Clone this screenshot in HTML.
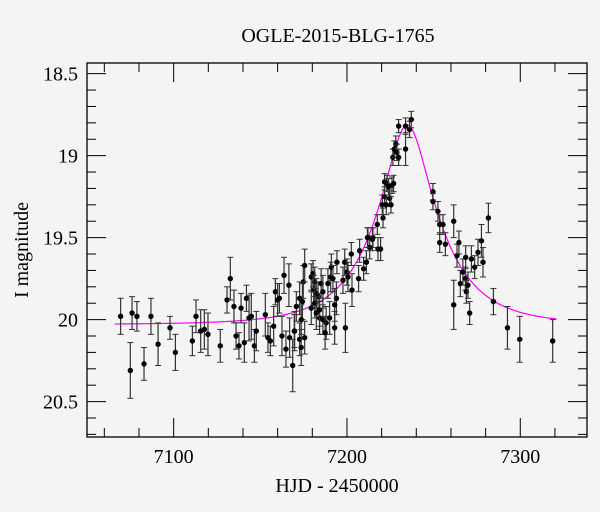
<!DOCTYPE html>
<html><head><meta charset="utf-8"><style>
body{margin:0;background:#f4f4f4;}
svg{display:block;font-family:"Liberation Serif",serif;}
</style></head><body>
<svg id="chart" width="600" height="512" xmlns="http://www.w3.org/2000/svg">
<rect width="600" height="512" fill="#f4f4f4"/>
<text x="338" y="42" text-anchor="middle" font-size="20">OGLE-2015-BLG-1765</text>
<text x="337" y="492" text-anchor="middle" font-size="20">HJD - 2450000</text>
<text transform="translate(28,250) rotate(-90)" text-anchor="middle" font-size="20">I magnitude</text>
<g id="axes"></g>
<g id="model"></g>
<g id="points"></g>
</svg>
<script>
const tData=[7069.4,7075,7076,7078.8,7082.9,7086.9,7091,7097.9,7101,7110.8,7112.9,7115.6,7117.7,7119.8,7126.9,7130.8,7132.7,7134.8,7136,7137.7,7138.9,7140.8,7142,7143.5,7144.8,7146.6,7147.7,7152.9,7154.4,7155.8,7157.7,7158.7,7160,7161,7162.5,7163.7,7164.8,7166.5,7166.9,7168.7,7169.6,7170.8,7174.8,7175.6,7172.7,7174.3,7169.8,7173.6,7172.7,7173.6,7175.6,7179.4,7180.4,7181.4,7180.8,7182.3,7183.3,7179.4,7181.4,7182.3,7184.2,7185.1,7184.2,7186.1,7186.1,7188,7189,7190,7190.6,7191,7191.9,7187.4,7192.9,7194.2,7193.9,7192.9,7197.7,7198.7,7199.1,7200,7200.6,7202.5,7202.9,7206.7,7207.3,7209.6,7211.2,7212.1,7215,7213.1,7217.9,7219.4,7217.5,7214.7,7211.8,7220.8,7220.4,7221.7,7222.7,7223.1,7221.7,7224,7224.6,7225.4,7226,7226.9,7226.5,7227.3,7228.2,7228.8,7229.8,7229.8,7233.8,7233.8,7236.1,7237.1,7249.6,7249.6,7252.5,7253.5,7255.4,7253.5,7256.8,7261.6,7261.6,7263.5,7264.6,7265.4,7266.9,7268.3,7268.5,7268.9,7269.8,7270.8,7271.8,7273.7,7275.6,7277.6,7278.5,7281.6,7284.5,7292.6,7299.7,7318.7];
const magData=[19.98,20.31,19.96,19.98,20.27,19.98,20.15,20.05,20.2,20.13,19.98,20.07,20.06,20.09,20.16,19.88,19.75,19.92,20.1,20.16,19.93,20.14,19.87,19.99,19.98,20.16,20.07,19.97,20.11,20.13,20.04,19.83,19.88,19.87,20.1,19.73,20.18,19.79,20.11,20.28,20.07,19.92,19.77,19.67,19.87,19.89,20.07,20.0,20.12,20.17,20.11,19.74,19.72,19.77,19.82,19.84,19.86,19.93,19.9,19.96,19.99,19.78,19.94,20.0,19.83,20.02,19.78,19.99,19.74,19.68,19.75,20.08,20.05,19.65,19.87,19.91,19.76,19.65,20.05,19.71,19.74,19.6,19.82,19.75,19.58,19.69,19.65,19.5,19.5,19.56,19.57,19.57,19.42,19.51,19.5,19.38,19.3,19.25,19.3,19.17,19.16,19.19,19.26,19.3,19.18,19.17,19.01,18.96,18.93,18.98,19.01,18.82,18.96,18.82,18.84,18.78,19.22,19.28,19.34,19.42,19.42,19.53,19.54,19.4,19.91,19.61,19.53,19.78,19.71,19.75,19.62,19.83,19.79,19.96,19.63,19.68,19.59,19.52,19.65,19.38,19.89,20.05,20.12,20.13];
const errData=[0.11,0.17,0.1,0.09,0.1,0.11,0.13,0.07,0.11,0.09,0.1,0.13,0.12,0.13,0.1,0.08,0.13,0.1,0.08,0.08,0.09,0.12,0.08,0.14,0.14,0.1,0.12,0.13,0.09,0.09,0.12,0.08,0.1,0.09,0.12,0.11,0.11,0.13,0.12,0.16,0.1,0.09,0.1,0.1,0.1,0.11,0.12,0.09,0.1,0.11,0.1,0.08,0.08,0.09,0.09,0.09,0.09,0.1,0.09,0.1,0.1,0.09,0.1,0.09,0.1,0.1,0.09,0.1,0.09,0.08,0.08,0.1,0.1,0.07,0.1,0.1,0.08,0.08,0.15,0.08,0.09,0.07,0.1,0.08,0.07,0.07,0.07,0.06,0.06,0.07,0.07,0.07,0.06,0.07,0.06,0.06,0.06,0.06,0.06,0.05,0.05,0.05,0.05,0.05,0.05,0.05,0.05,0.05,0.05,0.05,0.05,0.04,0.1,0.05,0.05,0.05,0.05,0.05,0.06,0.06,0.06,0.06,0.07,0.1,0.15,0.07,0.07,0.08,0.08,0.07,0.07,0.07,0.08,0.07,0.08,0.07,0.08,0.1,0.09,0.09,0.08,0.13,0.14,0.13];
const xTickLabels=[7100,7200,7300];
const yTickLabels=[18.5,19,19.5,20,20.5];
const modelT0=[7234.8];
const modelU0=[0.34];
const modelTE=[35];
const modelBase=[20.03];
const X0=87,X1=587,Y0=63,Y1=437;
const xMin=7050,xMax=7338.5,yMin=18.435,yMax=20.716;
function sx(t){return X0+(t-xMin)/(xMax-xMin)*(X1-X0);}
function sy(m){return Y0+(m-yMin)/(yMax-yMin)*(Y1-Y0);}
const NS="http://www.w3.org/2000/svg";
function mk(tag,attrs,parent){const e=document.createElementNS(NS,tag);for(const k in attrs)e.setAttribute(k,attrs[k]);parent.appendChild(e);return e;}
const axes=document.getElementById('axes');
const frame=mk('rect',{x:X0,y:Y0,width:X1-X0,height:Y1-Y0,fill:'none',stroke:'#000','stroke-width':1.3},axes);


for(let t=7060;t<=xMax;t+=20){
  const major=(t%100===0);const L=major?19:9;const x=sx(t);
  const a=mk('line',{x1:x,x2:x,y1:Y1,y2:Y1-L,stroke:'#000','stroke-width':1},axes);
  
  
  const b=mk('line',{x1:x,x2:x,y1:Y0,y2:Y0+L,stroke:'#000','stroke-width':1},axes);
  
  
}
xTickLabels.forEach(v=>{
  const tx=mk('text',{x:sx(v),y:463,'text-anchor':'middle','font-size':20},axes);tx.textContent=v;
  
  
});
for(let i=0;i<=22;i++){
  const m=18.5+i*0.1;if(m>yMax)break;
  const major=(i%5===0);const L=major?19:9;const y=sy(m);
  const a=mk('line',{x1:X0,x2:X0+L,y1:y,y2:y,stroke:'#000','stroke-width':1},axes);
  
  
  const b=mk('line',{x1:X1,x2:X1-L,y1:y,y2:y,stroke:'#000','stroke-width':1},axes);
  
  
}
yTickLabels.forEach(v=>{
  const tx=mk('text',{x:78,y:sy(v)+7,'text-anchor':'end','font-size':20},axes);tx.textContent=v;
  
  
});
function amp(t){const tau=(t-modelT0[0])/modelTE[0];const u=Math.sqrt(tau*tau+modelU0[0]*modelU0[0]);return (u*u+2)/(u*Math.sqrt(u*u+4));}
let d='';
for(let t=7066;t<=7321;t+=0.5){const m=modelBase[0]-2.5*Math.log10(amp(t));d+=(d?'L':'M')+sx(t).toFixed(2)+' '+sy(m).toFixed(2);}
const mp=mk('path',{d:d,fill:'none',stroke:'#ff00ff','stroke-width':1.2},document.getElementById('model'));


const pg=document.getElementById('points');
tData.forEach((t,i)=>{
  const x=sx(t),y=sy(magData[i]),e=errData[i];
  const ya=sy(magData[i]-e),yb=sy(magData[i]+e);
  const g=mk('g',{},pg);
  
  
  mk('line',{x1:x,x2:x,y1:ya,y2:yb,stroke:'#333','stroke-width':1.2},g);
  mk('line',{x1:x-3,x2:x+3,y1:ya,y2:ya,stroke:'#333','stroke-width':1},g);
  mk('line',{x1:x-3,x2:x+3,y1:yb,y2:yb,stroke:'#333','stroke-width':1},g);
  mk('circle',{cx:x,cy:y,r:2.7,fill:'#000'},g);
});
</script>
</body></html>
